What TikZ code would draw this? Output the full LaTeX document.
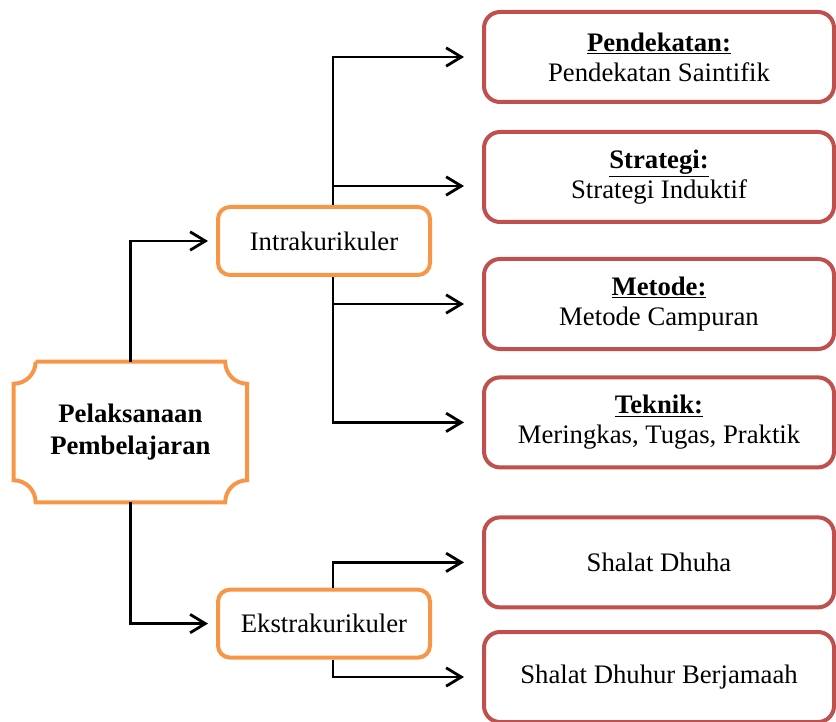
\documentclass[tikz,border=0pt]{standalone}
\usepackage{fontspec}
\setmainfont{Liberation Serif}
\usepackage{xcolor}
\usepackage{tikz}
\usetikzlibrary{arrows.meta,calc}
\definecolor{pbOrange}{RGB}{247,150, 70}
\definecolor{pbRed}   {RGB}{192, 80, 77}

\begin{document}
\begin{tikzpicture}[
  every node/.style={font=\fontsize{19}{21.5}\selectfont},
  >={Straight Barb[length=0.38cm,width=0.46cm]},
  induk/.style={minimum width=5.825cm,minimum height=3.5cm,align=center,
                inner sep=0pt,font=\fontsize{19}{23}\selectfont\bfseries},
  jenis/.style={draw=pbOrange,fill=white,line width=0.1cm,rounded corners=0.3cm,
                minimum width=5.3cm,minimum height=1.7cm,align=center},
  rincian/.style={draw=pbRed,fill=white,line width=0.1cm,rounded corners=0.4cm,
                minimum width=8.75cm,minimum height=2.25cm,align=center},
  alur/.style={line width=0.07cm,black}
]
\useasboundingbox (0,0) rectangle (20.9,-18.05);

\node[induk] (P) at (3.26,-10.8) {Pelaksanaan\\Pembelajaran};
\draw[draw=pbOrange,line width=0.1cm]
  ([xshift=0.55cm]P.north west) -- ([xshift=-0.55cm]P.north east)
  arc[start angle=180,end angle=270,radius=0.55cm]
  -- ([yshift=0.55cm]P.south east)
  arc[start angle=90,end angle=180,radius=0.55cm]
  -- ([xshift=0.55cm]P.south west)
  arc[start angle=0,end angle=90,radius=0.55cm]
  -- ([yshift=-0.55cm]P.north west)
  arc[start angle=270,end angle=360,radius=0.55cm];

\node[jenis] (I) at (8.1,-6.025) {Intrakurikuler};
\node[jenis] (E) at (8.1,-15.59) {Ekstrakurikuler};

\node[rincian] (R1) at (16.475,-1.425)  {\underline{\textbf{Pendekatan:}}\\Pendekatan Saintifik};
\node[rincian] (R2) at (16.475,-4.425)  {\underline{\textbf{Strategi:}}\\Strategi Induktif};
\node[rincian] (R3) at (16.475,-7.6)    {\underline{\textbf{Metode:}}\\Metode Campuran};
\node[rincian] (R4) at (16.475,-10.56)  {\underline{\textbf{Teknik:}}\\Meringkas,\ Tugas,\ Praktik};
\node[rincian] (R5) at (16.475,-14.06)  {Shalat Dhuha};
\node[rincian] (R6) at (16.475,-16.925) {Shalat Dhuhur Berjamaah};

\coordinate (Itop) at ([xshift=0.225cm]I.north);
\coordinate (Ibot) at ([xshift=0.225cm]I.south);
\coordinate (Etop) at ([xshift=0.225cm]E.north);
\coordinate (Ebot) at ([xshift=0.225cm]E.south);
\coordinate (J2) at ([yshift=-0.225cm]R2.west);

\draw[->,alur,shorten >=0.2cm] (P.north) |- (I.west);
\draw[->,alur,shorten >=0.2cm] (P.south) |- (E.west);

\draw[->,alur,shorten >=0.45cm] (Itop) |- (R1.west);
\draw[->,alur,shorten >=0.45cm] (Itop |- J2) -- (J2);
\draw[->,alur,shorten >=0.45cm] (Ibot |- R3.west) -- (R3.west);
\draw[->,alur,shorten >=0.45cm] (Ibot) |- (R4.west);
\draw[->,alur,shorten >=0.45cm] (Etop) |- (R5.west);
\draw[->,alur,shorten >=0.45cm] (Ebot) |- (R6.west);
\end{tikzpicture}
\end{document}
